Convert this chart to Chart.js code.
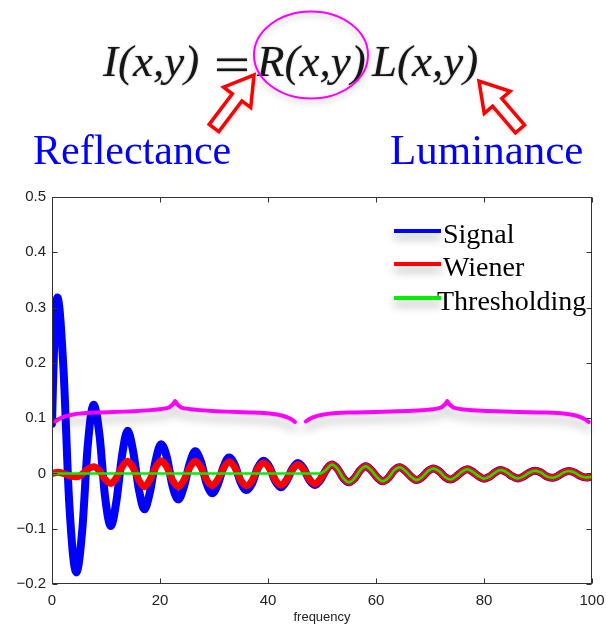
<!DOCTYPE html>
<html>
<head>
<meta charset="utf-8">
<title>Retinex - signal vs wiener vs thresholding</title>
<script src="https://cdn.jsdelivr.net/npm/chart.js@4.4.1/dist/chart.umd.min.js"></script>
<style>
  html, body { margin: 0; padding: 0; background: #fff; }
  canvas { display: block; }
</style>
</head>
<body>
<canvas id="chart" width="606" height="628"></canvas>
<script>
// ---------- datos ----------
const freq = [
  0, 0.45, 1.0, 2.1, 3.2, 4.5, 5.6, 6.6, 7.7, 8.8,
  9.8, 10.9, 11.9, 13.0, 14.0, 15.0, 16.1, 17.1, 18.1, 19.2,
  20.2, 21.3, 22.3, 23.4, 24.4, 25.5, 26.5, 27.6, 28.6, 29.7,
  30.7, 31.8, 32.8, 33.9, 34.9, 36.0, 37.1, 38.1, 39.2, 40.3,
  41.3, 42.4, 43.4, 44.5, 45.5, 46.6, 47.6, 48.7, 49.7, 50.8,
  51.8, 52.9, 53.9, 55.0, 56.0, 57.1, 58.1, 59.1, 60.2, 61.2,
  62.3, 63.3, 64.4, 65.4, 66.5, 67.5, 68.5, 69.6, 70.6, 71.7,
  72.7, 73.8, 74.8, 75.9, 76.9, 77.9, 79.0, 80.0, 81.0, 82.1,
  83.1, 84.2, 85.2, 86.3, 87.3, 88.4, 89.4, 90.5, 91.5, 92.6,
  93.6, 94.7, 95.7, 96.8, 97.8, 98.9, 100
];

const signal = [
  0.09, 0.25, 0.318, 0.194, -0.055, -0.179, -0.103, 0.048, 0.124, 0.069,
  -0.040, -0.095, -0.052, 0.034, 0.077, 0.0415, -0.0295, -0.065, -0.0355, 0.0235,
  0.053, 0.028, -0.022, -0.047, -0.025, 0.018, 0.040, 0.021, -0.017, -0.036,
  -0.020, 0.0128, 0.029, 0.014, -0.015, -0.030, -0.017, 0.010, 0.023, 0.011,
  -0.013, -0.025, -0.014, 0.008, 0.019, 0.009, -0.011, -0.021, -0.012, 0.007,
  0.016, 0.008, -0.008, -0.016, -0.009, 0.006, 0.013, 0.006, -0.007, -0.014,
  -0.008, 0.005, 0.011, 0.005, -0.006, -0.012, -0.007, 0.004, 0.009, 0.004,
  -0.006, -0.011, -0.006, 0.003, 0.0075, 0.003, -0.005, -0.0095, -0.006, 0.002,
  0.006, 0.002, -0.005, -0.009, -0.0055, 0.0015, 0.005, 0.002, -0.005, -0.008,
  -0.005, 0.0014, 0.0045, 0.0015, -0.0045, -0.0075, -0.006
];

const wiener = [
  0.000, 0.001, 0.002, 0.000, -0.004, -0.006, -0.0015, 0.0075, 0.012, 0.0045,
  -0.0105, -0.018, -0.008, 0.012, 0.022, 0.0105, -0.0125, -0.024, -0.012, 0.011,
  0.023, 0.011, -0.012, -0.024, -0.0125, 0.0105, 0.022, 0.011, -0.011, -0.022,
  -0.011, 0.010, 0.021, 0.010, -0.011, -0.022, -0.012, 0.009, 0.019, 0.009,
  -0.011, -0.021, -0.012, 0.007, 0.016, 0.007, -0.010, -0.019, -0.010, 0.007,
  0.016, 0.008, -0.008, -0.016, -0.009, 0.006, 0.013, 0.006, -0.007, -0.014,
  -0.008, 0.005, 0.011, 0.005, -0.006, -0.012, -0.007, 0.004, 0.009, 0.004,
  -0.006, -0.011, -0.006, 0.003, 0.0075, 0.003, -0.005, -0.0095, -0.006, 0.002,
  0.006, 0.002, -0.005, -0.009, -0.0055, 0.0015, 0.005, 0.002, -0.005, -0.008,
  -0.005, 0.0014, 0.0045, 0.0015, -0.0045, -0.0075, -0.006
];

const thresholding = [
  0, 0, 0, 0, 0, 0, 0, 0, 0, 0,
  0, 0, 0, 0, 0, 0, 0, 0, 0, 0,
  0, 0, 0, 0, 0, 0, 0, 0, 0, 0,
  0, 0, 0, 0, 0, 0, 0, 0, 0, 0,
  0, 0, 0, 0, 0, 0, 0, 0, 0, 0.007,
  0.016, 0.008, -0.008, -0.016, -0.009, 0.006, 0.013, 0.006, -0.007, -0.014,
  -0.008, 0.005, 0.011, 0.005, -0.006, -0.012, -0.007, 0.004, 0.009, 0.004,
  -0.006, -0.011, -0.006, 0.003, 0.0075, 0.003, -0.005, -0.0095, -0.006, 0.002,
  0.006, 0.002, -0.005, -0.009, -0.0055, 0.0015, 0.005, 0.002, -0.005, -0.008,
  -0.005, 0.0014, 0.0045, 0.0015, -0.0045, -0.0075, -0.006
];

const xTicks = [0, 20, 40, 60, 80, 100];
const xTickLabels = ['0', '20', '40', '60', '80', '100'];
const yTicks = [-0.2, -0.1, 0, 0.1, 0.2, 0.3, 0.4, 0.5];
const yTickLabels = ['\u22120.2', '\u22120.1', '0', '0.1', '0.2', '0.3', '0.4', '0.5'];

const seriesNames = ['Signal', 'Wiener', 'Thresholding'];
const seriesColors = ['#0000ff', '#ff0000', '#00ee00'];

// llaves magenta (inicio, pico, fin) en unidades de frecuencia
const braces = [[0.6, 22.8, 45], [47, 73.2, 99.4]];

// ---------- helpers ----------
function pts(values) {
  return freq.map((f, i) => ({ x: f, y: values[i] }));
}

const AXIS_FONT = '"Liberation Sans", Arial, sans-serif';
const SERIF = '"Liberation Serif", "Times New Roman", serif';

function arrow(ctx, x0, y0, x1, y1) {
  const dx = x1 - x0, dy = y1 - y0;
  const L = Math.hypot(dx, dy);
  const hl = 28, hw = 17, sw = 6;
  ctx.save();
  ctx.translate(x0, y0);
  ctx.rotate(Math.atan2(dy, dx));
  ctx.beginPath();
  ctx.moveTo(0, -sw);
  ctx.lineTo(L - hl, -sw);
  ctx.lineTo(L - hl, -hw);
  ctx.lineTo(L, 0);
  ctx.lineTo(L - hl, hw);
  ctx.lineTo(L - hl, sw);
  ctx.lineTo(0, sw);
  ctx.closePath();
  ctx.shadowColor = 'rgba(0,0,0,0.25)';
  ctx.shadowBlur = 5;
  ctx.shadowOffsetY = 2;
  ctx.fillStyle = '#fff';
  ctx.fill();
  ctx.shadowColor = 'transparent';
  ctx.lineWidth = 3.5;
  ctx.strokeStyle = '#ff0000';
  ctx.lineJoin = 'miter';
  ctx.stroke();
  ctx.restore();
}

// cabecera: ecuacion, elipse, flechas y rotulos
const header = {
  id: 'header',
  beforeDraw(chart) {
    const ctx = chart.ctx;
    ctx.save();
    ctx.fillStyle = '#fff';
    ctx.fillRect(0, 0, chart.width, chart.height);

    ctx.fillStyle = '#151515';
    ctx.textBaseline = 'alphabetic';
    ctx.shadowColor = 'rgba(0,0,0,0.35)';
    ctx.shadowBlur = 2;
    ctx.font = 'italic 45px ' + SERIF;
    ctx.fillText('I(x,y)', 103, 76);
    ctx.fillText('R(x,y)', 257, 76);
    ctx.fillText('L(x,y)', 372, 76);
    // signo igual como dos barras
    ctx.fillRect(217, 58.5, 30, 2.6);
    ctx.fillRect(217, 68.5, 30, 2.6);
    ctx.shadowColor = 'transparent';

    // elipse
    ctx.beginPath();
    ctx.ellipse(311, 55, 57, 43.5, 0, 0, Math.PI * 2);
    ctx.shadowColor = 'rgba(0,0,0,0.25)';
    ctx.shadowBlur = 6;
    ctx.shadowOffsetY = 3;
    ctx.lineWidth = 2;
    ctx.strokeStyle = '#ff00ff';
    ctx.stroke();
    ctx.restore();

    arrow(ctx, 214, 128, 254, 75);
    arrow(ctx, 520, 129, 479, 81);

    ctx.save();
    ctx.fillStyle = '#0000ff';
    ctx.font = '42px ' + SERIF;
    ctx.fillText('Reflectance', 33, 164);
    ctx.font = '43px ' + SERIF;
    ctx.fillText('Luminance', 390, 164);
    ctx.restore();
  }
};

// caja de ejes, ticks hacia dentro, llaves y leyenda
const overlay = {
  id: 'overlay',
  afterDatasetsDraw(chart) {
    const ctx = chart.ctx;
    const a = chart.chartArea;
    const xs = chart.scales.x, ys = chart.scales.y;
    ctx.save();

    // llaves
    ctx.strokeStyle = '#ff00ff';
    ctx.lineWidth = 4;
    ctx.lineCap = 'round';
    ctx.lineJoin = 'round';
    ctx.shadowColor = 'rgba(0,0,0,0.28)';
    ctx.shadowBlur = 10;
    ctx.shadowOffsetY = 7;
    const P = (fx, fy) => [xs.getPixelForValue(fx), ys.getPixelForValue(fy)];
    braces.forEach(([b0, tip, b1]) => {
      ctx.beginPath();
      ctx.moveTo(...P(b0, 0.094));
      ctx.bezierCurveTo(...P(b0 + 1.5, 0.106), ...P(b0 + 4, 0.109), ...P(b0 + 8, 0.110));
      ctx.bezierCurveTo(...P(tip - 9, 0.112), ...P(tip - 3, 0.113), ...P(tip - 1.2, 0.119));
      ctx.quadraticCurveTo(...P(tip - 0.3, 0.124), ...P(tip, 0.131));
      ctx.quadraticCurveTo(...P(tip + 0.3, 0.124), ...P(tip + 1.2, 0.119));
      ctx.bezierCurveTo(...P(tip + 3, 0.113), ...P(tip + 9, 0.112), ...P(b1 - 8, 0.110));
      ctx.bezierCurveTo(...P(b1 - 4, 0.109), ...P(b1 - 1.5, 0.106), ...P(b1, 0.093));
      ctx.stroke();
    });
    ctx.restore();

    // caja y ticks
    ctx.save();
    ctx.strokeStyle = '#333';
    ctx.lineWidth = 1;
    const L = Math.round(a.left) + 0.5, R = Math.round(a.right) - 0.5;
    const T = Math.round(a.top) + 0.5, B = Math.round(a.bottom) - 0.5;
    ctx.strokeRect(L, T, R - L, B - T);
    ctx.beginPath();
    xTicks.forEach(v => {
      const px = Math.round(xs.getPixelForValue(v)) + 0.5;
      ctx.moveTo(px, B); ctx.lineTo(px, B - 5);
      ctx.moveTo(px, T); ctx.lineTo(px, T + 5);
    });
    yTicks.forEach(v => {
      const py = Math.round(ys.getPixelForValue(v)) + 0.5;
      ctx.moveTo(L, py); ctx.lineTo(L + 5, py);
      ctx.moveTo(R, py); ctx.lineTo(R - 5, py);
    });
    ctx.stroke();
    ctx.restore();

    // leyenda
    ctx.save();
    const rows = [231, 264, 298];
    const textX = [443, 443, 437];
    rows.forEach((y, i) => {
      ctx.save();
      ctx.shadowColor = 'rgba(0,0,0,0.3)';
      ctx.shadowBlur = 8;
      ctx.shadowOffsetY = 6;
      ctx.strokeStyle = seriesColors[i];
      ctx.lineWidth = 4;
      ctx.beginPath();
      ctx.moveTo(394, y);
      ctx.lineTo(441, y);
      ctx.stroke();
      ctx.restore();
      ctx.fillStyle = '#000';
      ctx.font = '28px ' + SERIF;
      ctx.textBaseline = 'alphabetic';
      ctx.fillText(seriesNames[i], textX[i], y + 12);
    });
    ctx.restore();
  }
};

new Chart(document.getElementById('chart'), {
  type: 'line',
  data: {
    datasets: [
      { label: seriesNames[0], data: pts(signal), borderColor: seriesColors[0], borderWidth: 8, order: 3 },
      { label: seriesNames[1], data: pts(wiener), borderColor: seriesColors[1], borderWidth: 7, order: 2 },
      { label: seriesNames[2], data: pts(thresholding), borderColor: seriesColors[2], borderWidth: 2.5, order: 1 }
    ].map(d => Object.assign(d, {
      pointRadius: 0,
      cubicInterpolationMode: 'monotone',
      borderCapStyle: 'round',
      borderJoinStyle: 'round',
      clip: 0
    }))
  },
  options: {
    responsive: false,
    animation: false,
    events: [],
    layout: { padding: { top: 197, right: 14, left: 0, bottom: 0 } },
    plugins: { legend: { display: false }, tooltip: { enabled: false } },
    scales: {
      x: {
        type: 'linear',
        min: 0,
        max: 100,
        afterBuildTicks: s => { s.ticks = xTicks.map(v => ({ value: v })); },
        afterFit: s => { s.height = 44; s.paddingLeft = 0; s.paddingRight = 0; },
        grid: { display: false, drawTicks: false },
        border: { display: false },
        ticks: {
          padding: 8,
          color: '#222',
          font: { family: AXIS_FONT, size: 15 },
          maxRotation: 0,
          callback: (v, i) => xTickLabels[i]
        },
        title: {
          display: true,
          text: 'frequency',
          color: '#222',
          font: { family: AXIS_FONT, size: 13 },
          padding: { top: 0, bottom: 3 }
        }
      },
      y: {
        min: -0.2,
        max: 0.5,
        afterBuildTicks: s => { s.ticks = yTicks.map(v => ({ value: v })); },
        afterFit: s => { s.width = 52; s.paddingTop = 0; s.paddingBottom = 0; },
        grid: { display: false, drawTicks: false },
        border: { display: false },
        ticks: {
          padding: 6,
          color: '#222',
          font: { family: AXIS_FONT, size: 15 },
          callback: (v, i) => yTickLabels[i]
        }
      }
    }
  },
  plugins: [header, overlay]
});
</script>
</body>
</html>
